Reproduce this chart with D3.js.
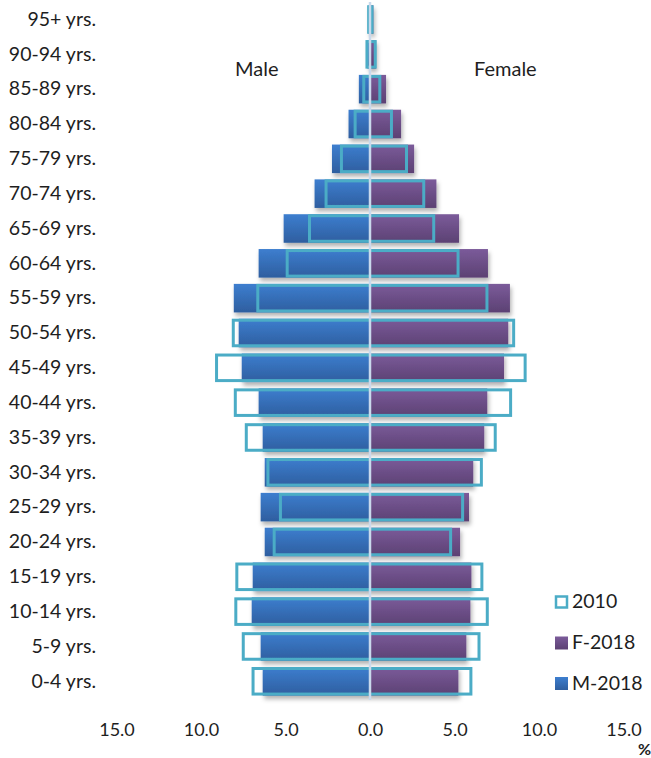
<!DOCTYPE html>
<html>
<head>
<meta charset="utf-8">
<script src="https://cdn.jsdelivr.net/npm/d3@7"></script>
<style>
  html, body { margin: 0; padding: 0; background: #fff; }
  svg { display: block; font-family: Lato, "Open Sans", sans-serif; }
</style>
</head>
<body>
<svg id="chart" width="651" height="758"></svg>
<script>
// ---- data (percent of population) ----
const ages = ["0-4 yrs.", "5-9 yrs.", "10-14 yrs.", "15-19 yrs.", "20-24 yrs.", "25-29 yrs.",
  "30-34 yrs.", "35-39 yrs.", "40-44 yrs.", "45-49 yrs.", "50-54 yrs.", "55-59 yrs.",
  "60-64 yrs.", "65-69 yrs.", "70-74 yrs.", "75-79 yrs.", "80-84 yrs.", "85-89 yrs.",
  "90-94 yrs.", "95+ yrs."];
const m2018 = [6.35, 6.47, 7.0, 6.94, 6.23, 6.47, 6.23, 6.35, 6.59, 7.59, 7.77, 8.06, 6.59, 5.11, 3.28, 2.25, 1.27, 0.66, 0.15, 0.1];
const f2018 = [5.23, 5.7, 5.94, 6.0, 5.33, 5.86, 6.11, 6.76, 6.94, 7.93, 8.18, 8.28, 6.98, 5.27, 3.93, 2.61, 1.84, 0.95, 0.35, 0.2];
const m2010 = [6.92, 7.5, 7.94, 7.88, 5.67, 5.3, 6.04, 7.32, 7.97, 9.08, 8.09, 6.64, 4.9, 3.58, 2.6, 1.69, 0.88, 0.37, 0.18, 0.08];
const f2010 = [5.97, 6.45, 6.94, 6.62, 4.77, 5.48, 6.59, 7.41, 8.32, 9.18, 8.5, 6.92, 5.21, 3.77, 3.18, 2.16, 1.27, 0.58, 0.31, 0.12];
const xTicks = [-15, -10, -5, 0, 5, 10, 15];
const legendItems = ["2010", "F-2018", "M-2018"];

const svg = d3.select("#chart");
const defs = svg.append("defs");

function grad(id, top, bottom) {
  const g = defs.append("linearGradient").attr("id", id)
    .attr("x1", 0).attr("y1", 0).attr("x2", 0).attr("y2", 1);
  g.append("stop").attr("offset", "0%").attr("stop-color", top);
  g.append("stop").attr("offset", "100%").attr("stop-color", bottom);
}
grad("gM", "#3d7ecf", "#2e5e9f");
grad("gF", "#7b5b9a", "#5c4173");

const f = defs.append("filter").attr("id", "shadow")
  .attr("x", "-10%").attr("y", "-20%").attr("width", "130%").attr("height", "160%");
f.append("feDropShadow").attr("dx", 1.5).attr("dy", 3.5).attr("stdDeviation", 2.2)
  .attr("flood-color", "#000").attr("flood-opacity", 0.3);

const x = d3.scaleLinear().domain([-15, 15]).range([116.5, 623.5]);
const y = d3.scaleBand().domain(ages.slice().reverse()).range([2.1, 698.7])
  .paddingInner(0.18).paddingOuter(0.09);

const rows = ages.map((a, i) => ({ a, m: m2018[i], f: f2018[i], m10: m2010[i], f10: f2010[i] }));

// 2018 bars
const bars = svg.append("g").attr("filter", "url(#shadow)");
bars.selectAll("rect.m").data(rows).join("rect").attr("class", "m")
  .attr("x", d => x(-d.m)).attr("width", d => x(0) - x(-d.m))
  .attr("y", d => y(d.a)).attr("height", y.bandwidth())
  .attr("fill", "url(#gM)");
bars.selectAll("rect.f").data(rows).join("rect").attr("class", "f")
  .attr("x", x(0)).attr("width", d => x(d.f) - x(0))
  .attr("y", d => y(d.a)).attr("height", y.bandwidth())
  .attr("fill", "url(#gF)");

// 2010 outlines
const sw = 3;
svg.append("g").selectAll("rect").data(rows).join("rect")
  .attr("x", d => x(-d.m10)).attr("width", d => x(d.f10) - x(-d.m10))
  .attr("y", d => y(d.a) + sw / 2).attr("height", y.bandwidth() - sw)
  .attr("fill", "none").attr("stroke", "#4bacc6").attr("stroke-width", sw);

// centre line
svg.append("line").attr("x1", x(0)).attr("x2", x(0)).attr("y1", 2).attr("y2", 700)
  .attr("stroke", "#c9d9ec").attr("stroke-width", 2.5);

// y labels
const yAxis = svg.append("g").attr("transform", "translate(96,0)")
  .call(d3.axisLeft(y).tickSize(0).tickPadding(0));
yAxis.select(".domain").remove();
yAxis.selectAll("text").attr("font-size", "19.5px").attr("fill", "#1e1e1e")
  .attr("font-family", "Lato, 'Open Sans', sans-serif");

// x axis
const xAxis = svg.append("g").attr("transform", "translate(0,718)")
  .call(d3.axisBottom(x).tickValues(xTicks).tickSize(0).tickPadding(0)
    .tickFormat(d => Math.abs(d).toFixed(1)));
xAxis.select(".domain").remove();
xAxis.selectAll("text").attr("font-size", "18px").attr("fill", "#1e1e1e")
  .attr("font-family", "Lato, 'Open Sans', sans-serif").attr("dy", "0.98em");

svg.append("text").attr("x", 638).attr("y", 755).text("%")
  .attr("font-size", "16px").attr("font-weight", "bold").attr("fill", "#1e1e1e");

// side titles
svg.append("text").attr("x", 235).attr("y", 76).text("Male")
  .attr("font-size", "20px").attr("fill", "#1e1e1e");
svg.append("text").attr("x", 474).attr("y", 76).text("Female")
  .attr("font-size", "20px").attr("fill", "#1e1e1e");

// legend
const lg = svg.append("g");
const legY = [601.5, 642.5, 683];
legendItems.forEach((name, i) => {
  const g = lg.append("g").attr("transform", `translate(555,${legY[i]})`);
  if (i === 0) {
    g.append("rect").attr("x", 1).attr("y", -5).attr("width", 11).attr("height", 11)
      .attr("fill", "#fff").attr("stroke", "#4bacc6").attr("stroke-width", 2.5);
  } else {
    g.append("rect").attr("x", 0).attr("y", -6).attr("width", 13).attr("height", 13)
      .attr("fill", i === 1 ? "url(#gF)" : "url(#gM)");
  }
  g.append("text").attr("x", 17).attr("y", 0).attr("dy", "0.35em").text(name)
    .attr("font-size", "19.5px").attr("fill", "#1e1e1e");
});
</script>
</body>
</html>
